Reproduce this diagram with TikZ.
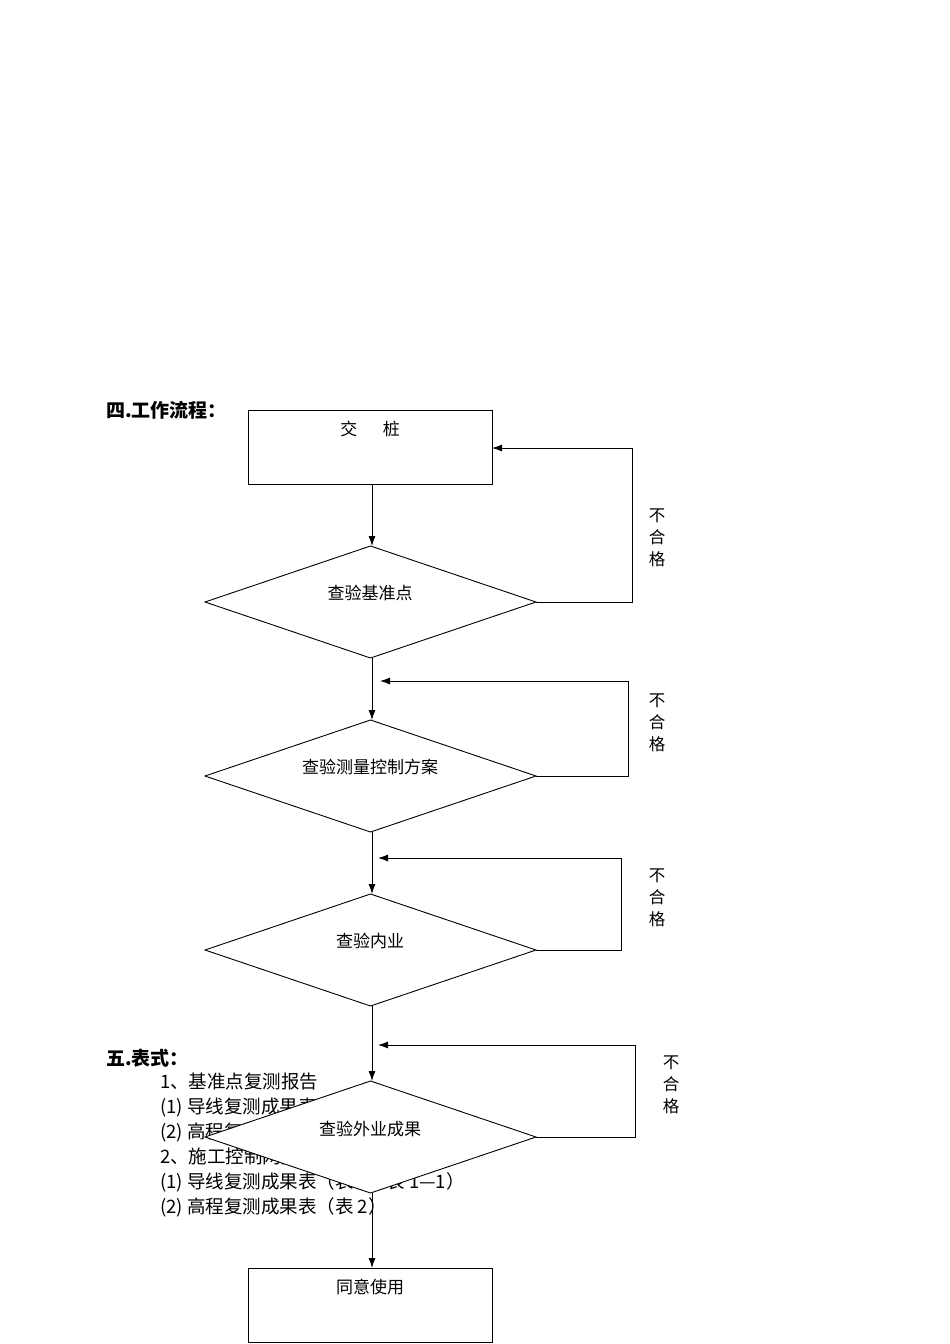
\documentclass[tikz,border=0pt]{standalone}
\usepackage{fontspec}
\setmainfont{Noto Sans CJK SC}
\usetikzlibrary{arrows.meta}
\begin{document}
\begin{tikzpicture}[x=1pt,y=-1pt,
  box/.style={draw,line width=0.9pt,fill=white},
  ln/.style={line width=0.9pt},
  arr/.style={ln,-{Latex[length=10pt,width=7pt]}},
  txt/.style={font=\fontsize{17}{20}\selectfont,inner sep=0pt},
  lst/.style={font=\fontsize{18.5}{20}\selectfont,inner sep=0pt,anchor=west},
  bad/.style={font=\fontsize{16.5}{22}\selectfont,align=center,inner sep=0pt}]
\useasboundingbox (0,0) rectangle (950,1344);
\node[font=\bfseries\fontsize{19}{20}\selectfont,anchor=west,inner sep=0pt] (h4) at (106,410) {四.工作流程：};
\node[font=\bfseries\fontsize{19}{20}\selectfont,anchor=west,inner sep=0pt] (h5) at (106,1058) {五.表式：};
\node[lst] (l1) at (160,1082) {1、基准点复测报告};
\node[lst] (l2) at (160,1107) {(1) 导线复测成果表（表 1—1）};
\node[lst] (l3) at (160,1132) {(2) 高程复测成果表（表 2）};
\node[lst] (l4) at (160,1157) {2、施工控制网复测报告};
\node[lst] (l5) at (160,1182) {(1) 导线复测成果表（表 1，表 1—1）};
\node[lst] (l6) at (160,1207) {(2) 高程复测成果表（表 2）};
% boxes
\draw[box] (248,410) rectangle (492,484);
\coordinate (b1t) at (372,410); \coordinate (b1b) at (372,484); \coordinate (b1r) at (492,448);
\node[txt] (t1) at (370,429) {交\hspace{1.5em}桩};
\draw[box] (248,1268) rectangle (492,1342);
\coordinate (b2t) at (372,1268);
\node[txt] (t2) at (370,1287) {同意使用};
% diamonds
\foreach \n/\c in {1/602,2/776,3/950,4/1137}{
  \draw[box] (205,\c) -- (370.5,\c-56) -- (536,\c) -- (370.5,\c+56) -- cycle;
  \coordinate (d\n t) at (372,\c-56); \coordinate (d\n b) at (372,\c+56);
  \coordinate (d\n r) at (536,\c);
}
\node[txt] at (370,593) {查验基准点};
\node[txt] at (370,767) {查验测量控制方案};
\node[txt] at (370,941) {查验内业};
\node[txt] at (370,1129) {查验外业成果};
% main arrows
\draw[arr] (b1b) -- (d1t);
\draw[arr] (d1b) -- (d2t);
\draw[arr] (d2b) -- (d3t);
\draw[arr] (d3b) -- (d4t);
\draw[arr] (d4b) -- (b2t);
% feedback
\draw[arr] (d1r) -| (632,448) -- (b1r);
\coordinate (f2) at (380,681);
\draw[arr] (d2r) -| (628,681) -- (f2);
\coordinate (f3) at (378,858);
\draw[arr] (d3r) -| (621,858) -- (f3);
\coordinate (f4) at (378,1045);
\draw[arr] (d4r) -| (635,1045) -- (f4);
\node[bad] at (657,538) {不\\合\\格};
\node[bad] at (657,723) {不\\合\\格};
\node[bad] at (657,898) {不\\合\\格};
\node[bad] at (671,1085) {不\\合\\格};
\end{tikzpicture}
\end{document}
